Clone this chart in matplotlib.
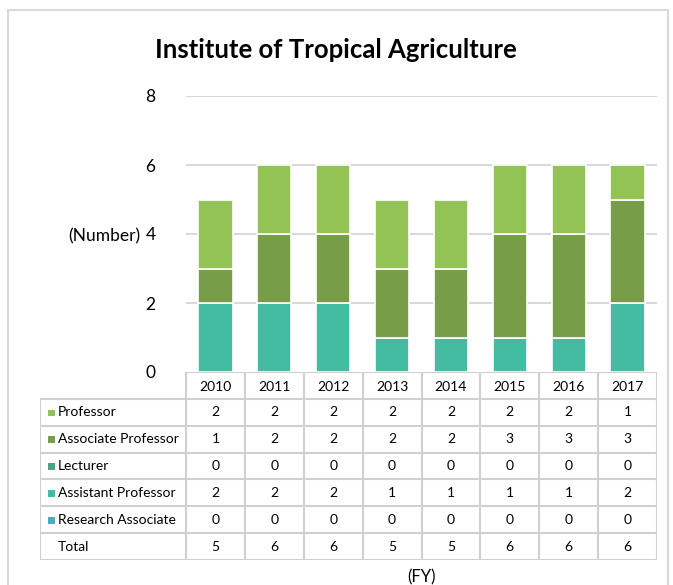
import matplotlib.pyplot as plt
from matplotlib.patches import Rectangle

# data
years = ["2010", "2011", "2012", "2013", "2014", "2015", "2016", "2017"]
professor = [2, 2, 2, 2, 2, 2, 2, 1]
associate_professor = [1, 2, 2, 2, 2, 3, 3, 3]
lecturer = [0, 0, 0, 0, 0, 0, 0, 0]
assistant_professor = [2, 2, 2, 1, 1, 1, 1, 2]
research_associate = [0, 0, 0, 0, 0, 0, 0, 0]

# stacking order bottom -> top
series = [
    ("Research Associate", research_associate, "#4BACC6"),
    ("Assistant Professor", assistant_professor, "#43BCA1"),
    ("Lecturer", lecturer, "#4AA57F"),
    ("Associate Professor", associate_professor, "#789D49"),
    ("Professor", professor, "#93C355"),
]

plt.rcParams["font.family"] = ["Lato", "DejaVu Sans"]

W, H = 673, 585
fig = plt.figure(figsize=(W / 100, H / 100), dpi=100)

# outer border
fig.patches.append(Rectangle((8 / W, -0.05), 660 / W, 1 - 10 / H + 0.05,
                             transform=fig.transFigure, fill=False,
                             edgecolor="#D9D9D9", linewidth=1.5))

left, right = 186 / W, 657 / W
bottom, top = 1 - 372 / H, 1 - 96 / H
ax = fig.add_axes([left, bottom, right - left, top - bottom])

x = range(len(years))
base = [0] * len(years)
for name, vals, color in series:
    ax.bar(x, vals, width=0.58, bottom=base, color=color,
           edgecolor="white", linewidth=1.2, zorder=3)
    base = [b + v for b, v in zip(base, vals)]

ax.set_xlim(-0.5, len(years) - 0.5)
ax.set_ylim(0, 8)
ax.set_yticks([0, 2, 4, 6, 8])
for yv in [2, 4, 6, 8]:
    ax.axhline(yv, color="#D9D9D9", linewidth=1.5, zorder=1)
ax.set_xticks([])
for s in ax.spines.values():
    s.set_visible(False)
ax.tick_params(axis="y", length=0, pad=22, labelsize=12.5)

fig.text(140 / W, 1 - 236 / H, "(Number)", ha="right", va="center",
         fontsize=12.5)
fig.text(336 / W, 1 - 50 / H, "Institute of Tropical Agriculture",
         ha="center", va="center", fontsize=18.5, fontweight="bold")

# data table below the plot
tleft = 40 / W
tbottom = 1 - 560 / H
tax = fig.add_axes([tleft, tbottom, right - tleft, bottom - tbottom])
unit = (right - left) / len(years)
label_w = (left - tleft) / unit
tax.set_xlim(-0.5 - label_w, len(years) - 0.5)
nrows = len(series) + 2
tax.set_ylim(nrows, 0)
tax.axis("off")

lc = "#D0D0D0"
lw = 1.5
# header row only spans the year columns
tax.hlines(0, -0.5, len(years) - 0.5, color=lc, linewidth=lw)
for r in range(1, nrows + 1):
    tax.hlines(r, -0.5 - label_w, len(years) - 0.5, color=lc, linewidth=lw)
for c in range(len(years) + 1):
    tax.vlines(c - 0.5, 0, nrows, color=lc, linewidth=lw)
tax.vlines(-0.5 - label_w, 1, nrows, color=lc, linewidth=lw)

for i, yr in enumerate(years):
    tax.text(i, 0.55, yr, ha="center", va="center", fontsize=10)

rows = list(reversed(series))
for r, (name, vals, color) in enumerate(rows, start=1):
    tax.add_patch(Rectangle((-0.5 - label_w + 0.13, r + 0.4), 0.12, 0.25,
                            facecolor=color, edgecolor="none"))
    tax.text(-0.5 - label_w + 0.3, r + 0.5, name, ha="left", va="center",
             fontsize=10)
    for i, v in enumerate(vals):
        tax.text(i, r + 0.5, str(v), ha="center", va="center", fontsize=10)

totals = [sum(v) for v in zip(*[s[1] for s in series])]
tax.text(-0.5 - label_w + 0.3, nrows - 0.5, "Total", ha="left", va="center",
         fontsize=10)
for i, v in enumerate(totals):
    tax.text(i, nrows - 0.5, str(v), ha="center", va="center", fontsize=10)

fig.text((left + right) / 2, 1 - 577 / H, "(FY)", ha="center", va="center",
         fontsize=12)

plt.savefig("out.png", dpi=100)
